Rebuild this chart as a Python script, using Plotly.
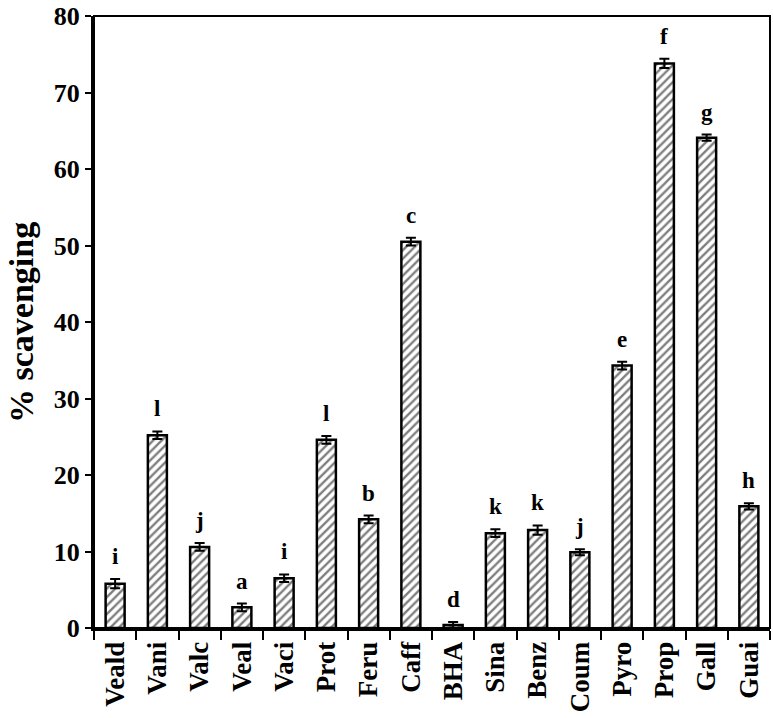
import plotly.graph_objects as go

categories = ["Veald", "Vani", "Valc", "Veal", "Vaci", "Prot", "Feru", "Caff",
              "BHA", "Sina", "Benz", "Coum", "Pyro", "Prop", "Gall", "Guai"]
values = [5.8, 25.2, 10.6, 2.7, 6.5, 24.6, 14.2, 50.5,
          0.4, 12.4, 12.8, 9.9, 34.3, 73.8, 64.1, 15.9]
errors = [0.6, 0.5, 0.5, 0.5, 0.5, 0.5, 0.5, 0.5,
          0.4, 0.5, 0.6, 0.4, 0.5, 0.6, 0.4, 0.4]
letters = ["i", "l", "j", "a", "i", "l", "b", "c",
           "d", "k", "k", "j", "e", "f", "g", "h"]
y_ticks = [0, 10, 20, 30, 40, 50, 60, 70, 80]
y_title = "% scavenging"

font_family = "Liberation Serif, Times New Roman, serif"

fig = go.Figure()
fig.add_trace(go.Bar(
    x=categories, y=values,
    error_y=dict(type="data", array=errors, color="black", thickness=2, width=5),
    marker=dict(color="white", line=dict(color="black", width=2.5),
                pattern=dict(shape="/", fgcolor="black", bgcolor="white",
                             size=6, solidity=0.4)),
    width=0.45,
))

annotations = [
    dict(x=c, y=v + e, text=t, showarrow=False, xref="x", yref="y",
         yanchor="bottom", yshift=8,
         font=dict(family=font_family, size=23, color="black", weight="bold"))
    for c, v, e, t in zip(categories, values, errors, letters)
]
annotations.append(dict(
    x=-0.108, y=0.5, xref="paper", yref="paper", text=y_title, textangle=-90,
    showarrow=False, xanchor="center", yanchor="middle",
    font=dict(family=font_family, size=34, color="black", weight="bold"),
))

fig.update_layout(
    width=773, height=718,
    margin=dict(l=94, r=3, t=16, b=90, autoexpand=False),
    plot_bgcolor="white", paper_bgcolor="white",
    showlegend=False,
    font=dict(family=font_family, color="black"),
    annotations=annotations,
    shapes=[dict(type="rect", xref="paper", yref="paper", x0=0, y0=0, x1=1, y1=1,
                 line=dict(color="black", width=2))],
)
fig.update_xaxes(
    type="category", tickson="boundaries", ticks="outside", ticklen=9, tickwidth=2,
    tickcolor="black", showline=True, linecolor="black", linewidth=3,
    tickangle=-90, tickfont=dict(family=font_family, size=27, color="black", weight="bold"),
    showgrid=False, range=[-0.5, 15.5], automargin=False,
)
fig.update_yaxes(
    range=[0, 80], tickvals=y_ticks, ticks="outside", ticklen=6, tickwidth=1.5,
    tickcolor="black", showline=True, linecolor="black", linewidth=3,
    tickfont=dict(family=font_family, size=26, color="black", weight="bold"),
    showgrid=False, zeroline=False, automargin=False,
)

fig.write_html("out.html", config={"displayModeBar": False},
               post_script="document.body.style.margin='0px';")
